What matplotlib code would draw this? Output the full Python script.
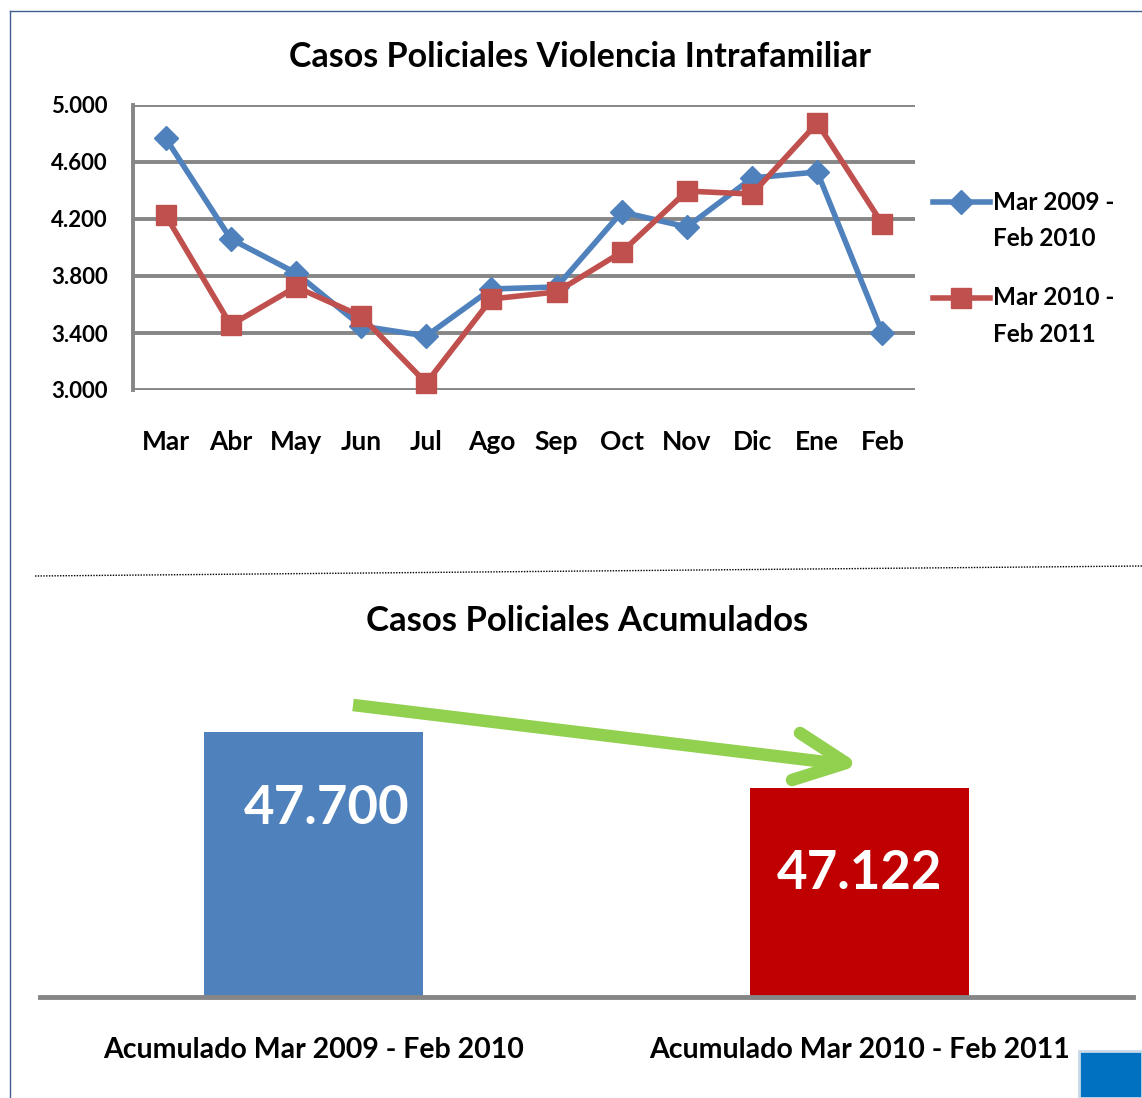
import matplotlib
matplotlib.use("Agg")
import matplotlib.pyplot as plt
from matplotlib.lines import Line2D
from matplotlib.patches import Rectangle

plt.rcParams['font.family'] = ['Lato', 'DejaVu Sans']

meses = ["Mar", "Abr", "May", "Jun", "Jul", "Ago", "Sep", "Oct", "Nov", "Dic", "Ene", "Feb"]
serie_2009 = [4768, 4060, 3821, 3449, 3379, 3709, 3723, 4249, 4144, 4488, 4530, 3400]
serie_2010 = [4228, 3456, 3723, 3519, 3049, 3639, 3688, 3968, 4396, 4375, 4874, 4165]
etiquetas_serie = ["Mar 2009 -\nFeb 2010", "Mar 2010 -\nFeb 2011"]

acum_labels = ["Acumulado Mar 2009 - Feb 2010", "Acumulado Mar 2010 - Feb 2011"]
acum_values = [47700, 47122]
acum_text = ["47.700", "47.122"]

W, H = 1142, 1098
fig = plt.figure(figsize=(W / 100, H / 100), dpi=100)

def fx(px):
    return px / W

def fy(py):
    return 1 - py / H

blue = "#4F81BD"
red = "#C0504D"
grid = "#868686"

# ---- top line chart
ax = fig.add_axes([fx(133), fy(390), fx(915) - fx(133), fy(105) - fy(390)])
x = range(len(meses))
estilos = [dict(color=blue, marker="D", ms=12), dict(color=red, marker="s", ms=15)]
for vals, st in zip([serie_2009, serie_2010], estilos):
    ax.plot(x, vals, lw=4, mec=st["color"], zorder=3, clip_on=False, **st)
ax.set_xlim(-0.5, len(meses) - 0.5)
ax.set_ylim(3000, 5000)
ax.set_yticks([3000, 3400, 3800, 4200, 4600, 5000])
ax.set_yticklabels(["3.000", "3.400", "3.800", "4.200", "4.600", "5.000"], fontsize=16, fontweight="bold")
ax.set_xticks(list(x))
ax.set_xticklabels(meses, fontsize=19, fontweight="bold")
ax.tick_params(axis="both", length=0)
ax.tick_params(axis="x", pad=29)
ax.tick_params(axis="y", pad=18)
ax.yaxis.grid(True, color=grid, lw=2.8)
ax.set_axisbelow(True)
for s in ["top", "right", "bottom"]:
    ax.spines[s].set_visible(False)
ax.spines["left"].set_color(grid)
ax.spines["left"].set_linewidth(2.8)

# legend (handle aligned with first text line, as in the original)
leg_y = [202, 298]
for lab, st, yy in zip(etiquetas_serie, estilos, leg_y):
    fig.add_artist(Line2D([fx(933), fx(990)], [fy(yy), fy(yy)], lw=4, color=st["color"]))
    fig.add_artist(Line2D([fx(961)], [fy(yy)], marker=st["marker"], ms=st["ms"],
                          color=st["color"], mec=st["color"]))
    for k, line in enumerate(lab.split("\n")):
        fig.text(fx(993), fy(yy + 36 * k), line, ha="left", va="center",
                 fontsize=17.5, fontweight="bold")

fig.text(fx(580), fy(57), "Casos Policiales Violencia Intrafamiliar", ha="center", va="center",
         fontsize=24.5, fontweight="bold")

# ---- bottom bar chart
y0 = 44965
px_unit = 10.321
ax2 = fig.add_axes([fx(40), fy(997), fx(1133) - fx(40), fy(660) - fy(997)])
ax2.bar([0, 1], acum_values, width=0.4, color=[blue, "#C00000"], zorder=2)
ax2.set_xlim(-0.5, 1.5)
ax2.set_ylim(y0, y0 + 337 * px_unit)
ax2.set_yticks([])
ax2.set_xticks([0, 1])
ax2.set_xticklabels(acum_labels, fontsize=20.5, fontweight="bold")
ax2.tick_params(axis="x", length=0, pad=29)
for s in ["top", "right", "left"]:
    ax2.spines[s].set_visible(False)
ax2.spines["bottom"].set_color(grid)
ax2.spines["bottom"].set_linewidth(3.5)
offs = [-76, -85]
shift = [13, 0]
for i, (v, t) in enumerate(zip(acum_values, acum_text)):
    ax2.annotate(t, (i, v), xytext=(shift[i], offs[i]), textcoords="offset pixels",
                 ha="center", va="center", color="white", fontsize=38, fontweight="bold")

fig.text(fx(587), fy(621), "Casos Policiales Acumulados", ha="center", va="center",
         fontsize=25, fontweight="bold")

# green arrow
green = "#92D050"
fig.add_artist(Line2D([fx(353), fx(842)], [fy(705), fy(764)], color=green, lw=9, solid_capstyle="butt"))
fig.add_artist(Line2D([fx(800), fx(846), fx(792)], [fy(733), fy(763), fy(780)], color=green, lw=9,
                      solid_joinstyle="round", solid_capstyle="round"))

# page decorations
border = "#3F5F8F"
fig.add_artist(Line2D([fx(10), 1], [fy(11), fy(11)], color=border, lw=1))
fig.add_artist(Line2D([fx(10), fx(10)], [fy(11), 0], color=border, lw=1))
fig.add_artist(Line2D([fx(35), 1], [fy(576), fy(566)], color="black", lw=1, ls=(0, (1, 1))))
fig.add_artist(Rectangle((fx(1079), 0), fx(1142) - fx(1079), fy(1051), facecolor="#0070C0",
                         edgecolor="#C8D8E8", lw=2, transform=fig.transFigure))

fig.savefig("out.png", dpi=100)
